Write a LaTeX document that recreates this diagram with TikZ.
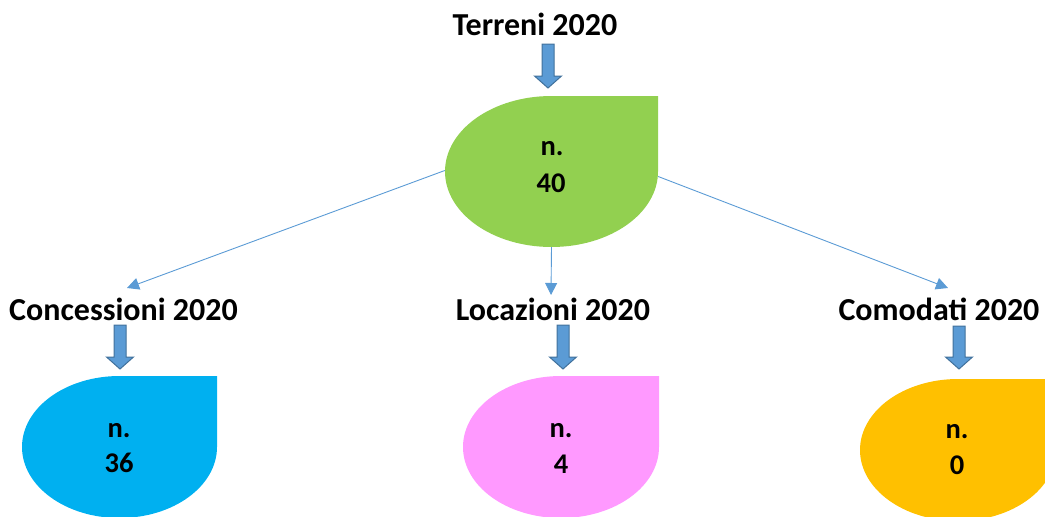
\documentclass[tikz,border=0pt]{standalone}
\usepackage{fontspec}
\setmainfont{Carlito}
\usetikzlibrary{arrows.meta}
\definecolor{cgreen}{HTML}{92D050}
\definecolor{cblue}{HTML}{00B0F0}
\definecolor{cpink}{HTML}{FF99FF}
\definecolor{corange}{HTML}{FFC000}
\definecolor{cline}{HTML}{5B9BD5}
\definecolor{cbord}{HTML}{41719C}
\newcommand\tdrop[5]{%
  \fill[#5] ({#1+#3},{#2-#4}) -- (#1,{#2-#4}) arc[start angle=270, end angle=0, x radius=#3, y radius=#4] -- cycle;}
\newcommand\barrow[4]{% cx, top, headstart, tip
  \filldraw[fill=cline, draw=cbord, line width=1pt]
    ({#1-6},#2) -- ({#1+6},#2) -- ({#1+6},#3) -- ({#1+13.5},#3) -- (#1,#4) -- ({#1-13.5},#3) -- ({#1-6},#3) -- cycle;}
\tikzset{
  head/.style={anchor=base, inner sep=0pt, font=\bfseries\fontsize{32}{38}\selectfont},
  val/.style={anchor=base, inner sep=0pt, font=\bfseries\fontsize{28.5}{34}\selectfont},
  box/.style={draw=none, inner sep=0pt},
  conn/.style={draw=cline, line width=0.9pt, -{Triangle[length=12pt,width=12pt]}}
}
\begin{document}
\begin{tikzpicture}[x=1pt,y=-1pt]
\useasboundingbox (0,0) rectangle (1045,517);
% shapes
\tdrop{551.5}{171.5}{106.5}{75.5}{cgreen}
\tdrop{119.5}{447}{97.5}{71}{cblue}
\tdrop{561}{447}{98}{71}{cpink}
\tdrop{958}{450}{98}{71}{corange}
\node[box, minimum width=213pt, minimum height=151pt] (g) at (551.5,171.5) {};
\node[box, minimum width=195pt, minimum height=142pt] (b) at (119.5,447) {};
\node[box, minimum width=196pt, minimum height=142pt] (p) at (561,447) {};
\node[box, minimum width=196pt, minimum height=142pt] (o) at (958,450) {};
% values
\node[val] (g1) at (552,155) {n.};
\node[val] (g2) at (551,192) {40};
\node[val] (b1) at (119,437) {n.};
\node[val] (b2) at (119,472) {36};
\node[val] (p1) at (561,437) {n.};
\node[val] (p2) at (561,473) {4};
\node[val] (o1) at (957,438) {n.};
\node[val] (o2) at (957,474) {0};
% headings
\node[head] (t) at (535,35) {Terreni 2020};
\node[head] (c) at (123.5,320) {Concessioni 2020};
\node[head] (l) at (553,320) {Locazioni 2020};
\node[head] (m) at (939,320) {Comodati 2020};
% block arrows
\barrow{548}{44}{76}{88}
\barrow{120}{325}{357}{369}
\barrow{563}{325}{357}{369}
\barrow{959}{326}{357}{369}
% connectors
\coordinate (ct) at (127,288);
\coordinate (lt) at (551,295);
\coordinate (mt) at (948,288);
\draw[conn] ([yshift=1]g.west) -- (ct);
\draw[conn] (g.south) -- (lt);
\draw[conn] ([yshift=-5]g.east) -- (mt);
\end{tikzpicture}
\end{document}
